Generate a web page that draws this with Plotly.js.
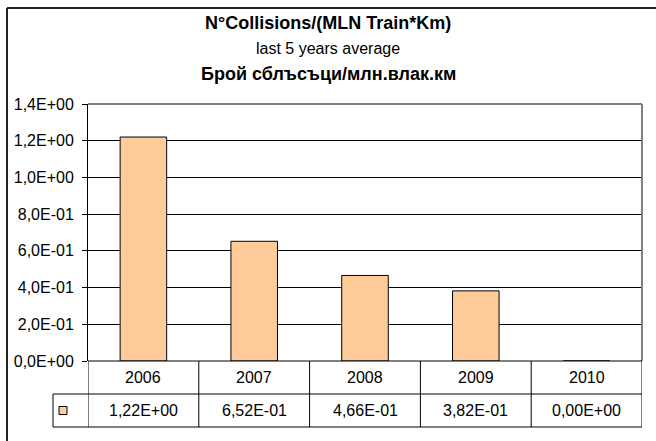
<!DOCTYPE html>
<html>
<head>
<meta charset="utf-8">
<script src="https://cdn.plot.ly/plotly-3.0.1.min.js"></script>
<style>html,body{margin:0;padding:0;background:#fff;}#chart{width:656px;height:441px;}</style>
</head>
<body>
<div id="chart"></div>
<script>
// ---- data ----
const categories = ['2006', '2007', '2008', '2009', '2010'];
const values = [1.22, 0.652, 0.466, 0.382, 0.0];
const yTicks = [0, 0.2, 0.4, 0.6, 0.8, 1.0, 1.2, 1.4];
const titleLine1 = 'N°Collisions/(MLN Train*Km)';
const titleLine2 = 'last 5 years average';
const titleLine3 = 'Брой сблъсъци/млн.влак.км';

// Excel-like scientific format with comma decimal: 1,22E+00
function fmtE(v, d) {
  const s = v.toExponential(d);
  const parts = s.split('e');
  const ex = parseInt(parts[1], 10);
  const sign = ex < 0 ? '-' : '+';
  return parts[0].replace('.', ',') + 'E' + sign + String(Math.abs(ex)).padStart(2, '0');
}

// ---- layout geometry (pixels) ----
const W = 656, H = 441;
const L = 88, R = 642, T = 104, B = 361;
const plotW = R - L, plotH = B - T;
const rowH = 33;
const py = p => (B - p) / plotH;   // pixel y -> paper y
const px = p => (p - L) / plotW;   // pixel x -> paper x

const font = 'Liberation Sans, Arial, sans-serif';
const lineCol = '#000000';
const tickSize = 16;
const tableSize = 16;

const shapes = [];
const annotations = [];

// outer chart border (top & left)
shapes.push({type: 'line', xref: 'paper', yref: 'paper', x0: px(7), x1: px(W + 5), y0: py(8), y1: py(8), line: {color: '#222', width: 2}});
shapes.push({type: 'line', xref: 'paper', yref: 'paper', x0: px(7), x1: px(7), y0: py(8), y1: py(H + 5), line: {color: '#222', width: 2}});

// plot area border top & right (gray)
shapes.push({type: 'line', xref: 'paper', yref: 'paper', x0: 0, x1: 1, y0: 1, y1: 1, line: {color: '#808080', width: 2}});
shapes.push({type: 'line', xref: 'paper', yref: 'paper', x0: 1, x1: 1, y0: 0, y1: 1, line: {color: '#808080', width: 2}});

// data table
const y0 = 0, y1 = py(B + rowH), y2 = py(B + 2 * rowH);
const xLeftCell = px(53);
shapes.push({type: 'line', xref: 'paper', yref: 'paper', x0: 0, x1: 1, y0: y0, y1: y0, line: {color: lineCol, width: 1}});
shapes.push({type: 'line', xref: 'paper', yref: 'paper', x0: xLeftCell, x1: 1, y0: y1, y1: y1, line: {color: lineCol, width: 1}});
shapes.push({type: 'line', xref: 'paper', yref: 'paper', x0: xLeftCell, x1: 1, y0: y2, y1: y2, line: {color: lineCol, width: 1}});
shapes.push({type: 'line', xref: 'paper', yref: 'paper', x0: xLeftCell, x1: xLeftCell, y0: y1, y1: y2, line: {color: lineCol, width: 1}});
for (let i = 0; i <= categories.length; i++) {
  shapes.push({type: 'line', xref: 'x', yref: 'paper', x0: i - 0.5, x1: i - 0.5, y0: y0, y1: y2, line: {color: lineCol, width: 1}});
}
// legend key
shapes.push({type: 'rect', xref: 'paper', yref: 'paper', x0: px(59), x1: px(67), y0: py(B + rowH * 1.5 - 4), y1: py(B + rowH * 1.5 + 4),
  fillcolor: '#FFCC99', line: {color: '#000', width: 1}});

categories.forEach((c, i) => {
  annotations.push({xref: 'x', yref: 'paper', x: i, y: py(B + rowH * 0.5), text: c, showarrow: false,
    xanchor: 'center', yanchor: 'middle', font: {family: font, size: tableSize, color: '#000'}});
  annotations.push({xref: 'x', yref: 'paper', x: i, y: py(B + rowH * 1.5), text: fmtE(values[i], 2), showarrow: false,
    xanchor: 'center', yanchor: 'middle', font: {family: font, size: tableSize, color: '#000'}});
});

// titles
const tX = px(328);
annotations.push({xref: 'paper', yref: 'paper', x: tX, y: py(23), text: '<b>' + titleLine1 + '</b>', showarrow: false,
  xanchor: 'center', yanchor: 'middle', font: {family: font, size: 18, color: '#000'}});
annotations.push({xref: 'paper', yref: 'paper', x: tX, y: py(48), text: titleLine2, showarrow: false,
  xanchor: 'center', yanchor: 'middle', font: {family: font, size: 16, color: '#000'}});
annotations.push({xref: 'paper', yref: 'paper', x: tX, y: py(74), text: '<b>' + titleLine3 + '</b>', showarrow: false,
  xanchor: 'center', yanchor: 'middle', font: {family: font, size: 18, color: '#000'}});

const data = [{
  type: 'bar',
  x: categories,
  y: values,
  marker: {color: '#FFCC99', line: {color: '#000', width: 1}},
  hoverinfo: 'none'
}];

const layout = {
  width: W, height: H,
  margin: {l: L, r: W - R, t: T, b: H - B, pad: 0},
  paper_bgcolor: '#fff', plot_bgcolor: '#fff',
  showlegend: false,
  bargap: 0.58,
  font: {family: font, size: tickSize, color: '#000'},
  xaxis: {type: 'category', range: [-0.5, categories.length - 0.5], showticklabels: false, ticks: '',
    showgrid: false, zeroline: false, showline: false, fixedrange: true},
  yaxis: {range: [0, 1.4], tickvals: yTicks, ticktext: yTicks.map(v => fmtE(v, 1)),
    showline: true, linecolor: '#000', linewidth: 1, ticks: 'outside', ticklen: 5, tickcolor: '#000',
    ticklabelstandoff: 5,
    showgrid: true, gridcolor: '#000', gridwidth: 1, zeroline: false,
    tickfont: {family: font, size: tickSize, color: '#000'}, fixedrange: true},
  shapes: shapes,
  annotations: annotations
};

Plotly.newPlot('chart', data, layout, {displayModeBar: false, staticPlot: true});
</script>
</body>
</html>
